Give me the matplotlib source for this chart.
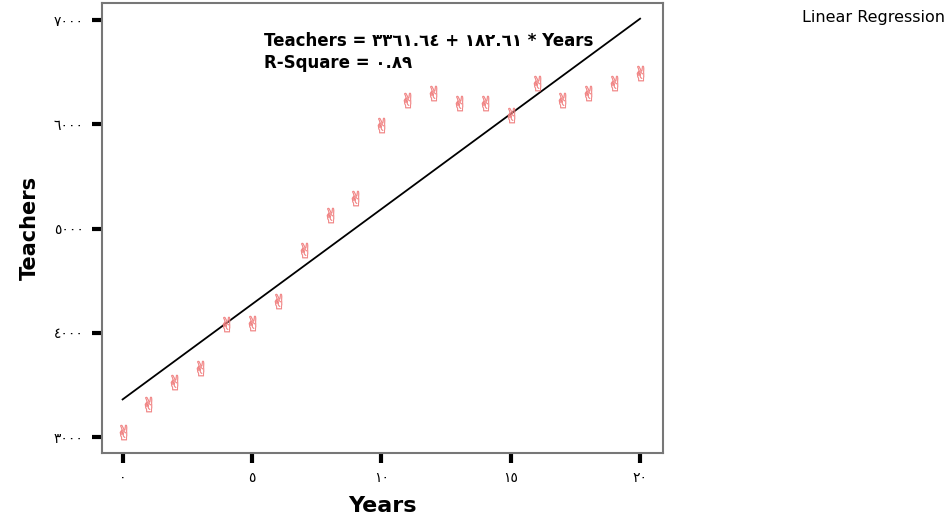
import numpy as np
import matplotlib
matplotlib.use('Agg')
import matplotlib.pyplot as plt

plt.rcParams['font.family'] = ['DejaVu Sans']

# data
years = np.arange(0, 21)
teachers = [3048, 3317, 3528, 3662, 4084, 4094, 4305, 4794, 5130, 5293, 5993,
            6233, 6300, 6204, 6204, 6089, 6396, 6233, 6300, 6396, 6492]

# fitted model shown in the chart
intercept = 3361.64
slope = 182.61

xticks = [0, 5, 10, 15, 20]
xtick_labels = ['٠', '٥', '١٠', '١٥', '٢٠']
yticks = [3000, 4000, 5000, 6000, 7000]
ytick_labels = ['٣٠٠٠', '٤٠٠٠', '٥٠٠٠', '٦٠٠٠', '٧٠٠٠']

fig = plt.figure(figsize=(9.5, 5.25), dpi=100)
ax = fig.add_axes([0.107, 0.137, 0.591, 0.857])

ax.scatter(years, teachers, marker='$\u270C$', s=120, color='#f07f7f', linewidths=0.3,
           edgecolors='#f07f7f', zorder=3)

xx = np.array([years[0], years[-1]])
ax.plot(xx, intercept + slope * xx, color='black', lw=1.3, zorder=2)

ax.set_xlim(-0.81, 20.89)
ax.set_ylim(2847, 7163)
ax.set_xticks(xticks)
ax.set_xticklabels(xtick_labels)
ax.set_yticks(yticks)
ax.set_yticklabels(ytick_labels)
ax.tick_params(axis='both', length=7, width=3, color='black', labelsize=10, pad=6)

for sp in ax.spines.values():
    sp.set_color('#777777')
    sp.set_linewidth(1.5)

ax.set_xlabel('Years', fontsize=16, fontweight='bold', labelpad=8)
ax.set_ylabel('Teachers', fontsize=15, fontweight='bold', labelpad=10)

ax.text(0.289, 0.915, 'Teachers = ٣٣٦١.٦٤ + ١٨٢.٦١ * Years', transform=ax.transAxes,
        fontsize=12, fontweight='bold', va='center')
ax.text(0.289, 0.866, 'R-Square = ٠.٨٩', transform=ax.transAxes,
        fontsize=12, fontweight='bold', va='center')

fig.text(0.995, 0.966, 'Linear Regression', fontsize=11.5, ha='right', va='center')

fig.savefig('out.png', dpi=100)
